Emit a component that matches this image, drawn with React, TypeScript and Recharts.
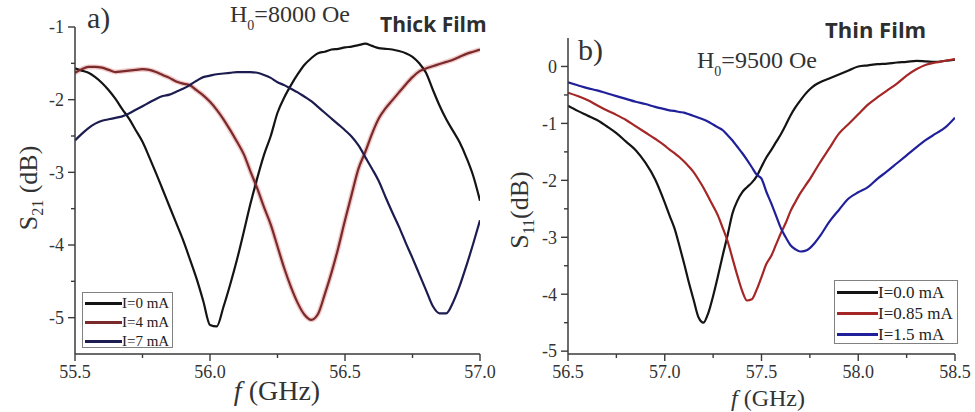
import { LineChart, Line, XAxis, YAxis, Legend } from 'recharts'

// a) thick film, S21 vs f, H0 = 8000 Oe
const thickFreq = [
  55.5, 55.525, 55.55, 55.575, 55.6, 55.625, 55.65, 55.675, 55.7, 55.725,
  55.75, 55.775, 55.8, 55.825, 55.85, 55.875, 55.9, 55.925, 55.95, 55.975,
  56.0, 56.025, 56.05, 56.075, 56.1, 56.125, 56.15, 56.175, 56.2, 56.225,
  56.25, 56.275, 56.3, 56.325, 56.35, 56.375, 56.4, 56.425, 56.45, 56.475,
  56.5, 56.525, 56.55, 56.575, 56.6, 56.625, 56.65, 56.675, 56.7, 56.725,
  56.75, 56.775, 56.8, 56.825, 56.85, 56.875, 56.9, 56.925, 56.95, 56.975, 57.0,
]
const thick0mA = [
  -1.57, -1.6, -1.63, -1.69, -1.77, -1.87, -1.99, -2.13, -2.26, -2.42,
  -2.58, -2.79, -3.01, -3.24, -3.47, -3.7, -3.93, -4.19, -4.46, -4.77,
  -5.1, -5.12, -4.85, -4.54, -4.2, -3.82, -3.43, -3.08, -2.76, -2.5,
  -2.18, -1.97, -1.8, -1.65, -1.52, -1.43, -1.36, -1.34, -1.31, -1.3,
  -1.28, -1.27, -1.25, -1.23, -1.26, -1.29, -1.3, -1.31, -1.33, -1.36,
  -1.41, -1.5, -1.63, -1.86, -2.08, -2.27, -2.43, -2.59, -2.8, -3.05, -3.39,
]
const thick4mA = [
  -1.63, -1.58, -1.55, -1.55, -1.56, -1.59, -1.62, -1.61, -1.6, -1.59,
  -1.58, -1.59, -1.62, -1.66, -1.7, -1.75, -1.78, -1.8, -1.87, -1.94,
  -2.03, -2.14, -2.27, -2.42, -2.58, -2.75, -2.99, -3.22, -3.48, -3.72,
  -4.02, -4.32, -4.58, -4.8, -4.96, -5.03, -4.95, -4.68, -4.38, -4.04,
  -3.66, -3.3, -2.95, -2.72, -2.47, -2.26, -2.12, -2.01, -1.9, -1.79,
  -1.69, -1.61, -1.57, -1.54, -1.51, -1.48, -1.45, -1.41, -1.37, -1.34, -1.31,
]
const thick7mA = [
  -2.56, -2.47, -2.39, -2.33, -2.29, -2.27, -2.25, -2.23, -2.19, -2.14,
  -2.09, -2.04, -1.99, -1.95, -1.93, -1.89, -1.85, -1.8, -1.74, -1.69,
  -1.67, -1.65, -1.64, -1.63, -1.62, -1.62, -1.62, -1.63, -1.66, -1.7,
  -1.76, -1.8, -1.85, -1.9, -1.96, -2.02, -2.1, -2.18, -2.26, -2.34,
  -2.42, -2.51, -2.63, -2.79, -2.95, -3.12, -3.34, -3.55, -3.75, -3.97,
  -4.18, -4.4, -4.62, -4.84, -4.94, -4.94, -4.79, -4.56, -4.28, -3.98, -3.66,
]
const thickXTicks = [55.5, 55.75, 56.0, 56.25, 56.5, 56.75, 57.0]
const thickYTicks = [-5, -4.5, -4, -3.5, -3, -2.5, -2, -1.5, -1]

// b) thin film, S11 vs f, H0 = 9500 Oe
const thinFreq = [
  56.5, 56.55, 56.6, 56.65, 56.7, 56.75, 56.8, 56.85, 56.9, 56.95,
  57.0, 57.025, 57.05, 57.075, 57.1, 57.125, 57.15, 57.175, 57.2, 57.225,
  57.25, 57.275, 57.3, 57.325, 57.35, 57.375, 57.4, 57.425, 57.45, 57.475,
  57.5, 57.525, 57.55, 57.575, 57.6, 57.625, 57.65, 57.675, 57.7, 57.725,
  57.75, 57.775, 57.8, 57.85, 57.9, 57.95, 58.0, 58.05, 58.1, 58.15,
  58.2, 58.25, 58.3, 58.35, 58.4, 58.45, 58.5,
]
const thin00mA = [
  -0.69, -0.78, -0.86, -0.94, -1.05, -1.17, -1.32, -1.47, -1.69, -1.98,
  -2.39, -2.62, -2.84, -3.14, -3.46, -3.8, -4.11, -4.41, -4.5, -4.33,
  -4.03, -3.68, -3.31, -2.96, -2.58, -2.36, -2.21, -2.12, -2.04, -1.93,
  -1.76, -1.6, -1.47, -1.33, -1.19, -1.03, -0.86, -0.72, -0.6, -0.49,
  -0.4, -0.33, -0.28, -0.21, -0.14, -0.07, 0.0, 0.02, 0.04, 0.05,
  0.07, 0.08, 0.1, 0.09, 0.08, 0.1, 0.12,
]
const thin085mA = [
  -0.46, -0.52, -0.59, -0.68, -0.77, -0.85, -0.94, -1.05, -1.16, -1.27,
  -1.39, -1.46, -1.52, -1.59, -1.67, -1.76, -1.86, -1.99, -2.13, -2.29,
  -2.45, -2.62, -2.84, -3.07, -3.37, -3.67, -3.94, -4.11, -4.09, -3.92,
  -3.7, -3.47, -3.33, -3.13, -2.93, -2.75, -2.54, -2.38, -2.23, -2.1,
  -1.98, -1.84, -1.7, -1.44, -1.18, -1.01, -0.84, -0.67, -0.54, -0.42,
  -0.3, -0.16, -0.05, 0.03, 0.07, 0.1, 0.13,
]
const thin15mA = [
  -0.28, -0.33, -0.38, -0.42, -0.47, -0.52, -0.57, -0.62, -0.66, -0.71,
  -0.75, -0.77, -0.78, -0.8, -0.81, -0.84, -0.87, -0.9, -0.93, -0.97,
  -1.02, -1.07, -1.12, -1.21, -1.3, -1.41, -1.52, -1.64, -1.77, -1.9,
  -1.97, -2.2, -2.4, -2.62, -2.84, -3.0, -3.14, -3.21, -3.25, -3.24,
  -3.19, -3.1, -2.99, -2.73, -2.52, -2.32, -2.21, -2.12, -1.97, -1.84,
  -1.7, -1.56, -1.42, -1.29, -1.18, -1.07, -0.9,
]
const thinXTicks = [56.5, 56.75, 57.0, 57.25, 57.5, 57.75, 58.0, 58.25, 58.5]
const thinYTicks = [-5, -4.5, -4, -3.5, -3, -2.5, -2, -1.5, -1, -0.5, 0]

const thickData = thickFreq.map((f, i) => ({ f, a: thick0mA[i], b: thick4mA[i], c: thick7mA[i] }))
const thinData = thinFreq.map((f, i) => ({ f, a: thin00mA[i], b: thin085mA[i], c: thin15mA[i] }))

const SERIF = '"Liberation Serif", serif'
const SANS = '"Open Sans", sans-serif'
const AXIS = '#3a3a3a'
const TICK_SIZE = 7
const TICK_MARGIN = 3

const isMajorX = (v: number) => Math.abs(v * 2 - Math.round(v * 2)) < 1e-6
const isMajorY = (v: number) => Math.abs(v - Math.round(v)) < 1e-6

function XTick(props: any) {
  const { x, y, payload } = props
  const v = payload.value as number
  const axisY = y - TICK_SIZE - TICK_MARGIN
  const major = isMajorX(v)
  return (
    <g>
      <line x1={x} x2={x} y1={axisY} y2={axisY + (major ? 7 : 4)} stroke={AXIS} strokeWidth={1.4} />
      {major && (
        <text x={x} y={axisY + 24} textAnchor="middle" fontSize={18} fill="#333" style={{ fontFamily: SERIF }}>
          {v.toFixed(1)}
        </text>
      )}
    </g>
  )
}

function YTick(props: any) {
  const { x, y, payload } = props
  const v = payload.value as number
  const axisX = x + TICK_SIZE + TICK_MARGIN
  const major = isMajorY(v)
  return (
    <g>
      <line x1={axisX - (major ? 7 : 4)} x2={axisX} y1={y} y2={y} stroke={AXIS} strokeWidth={1.4} />
      {major && (
        <text x={axisX - 11} y={y} dy="0.35em" textAnchor="end" fontSize={18} fill="#333" style={{ fontFamily: SERIF }}>
          {String(Math.round(v))}
        </text>
      )}
    </g>
  )
}

function LegendBox({ payload, rowH, lineW, fontSize }: { payload?: any[]; rowH: number; lineW: number; fontSize: number }) {
  const items = (payload || []).filter((p) => p.type !== 'none')
  return (
    <div
      style={{
        width: '100%',
        height: '100%',
        boxSizing: 'border-box',
        border: '1px solid #808080',
        background: '#fff',
        padding: '1px 0 0 2px',
      }}
    >
      {items.map((p) => (
        <div key={p.value} style={{ display: 'flex', alignItems: 'center', height: rowH }}>
          <div style={{ width: lineW, height: 2.5, background: p.color }} />
          <span style={{ fontFamily: SERIF, fontSize, color: '#222', lineHeight: 1, whiteSpace: 'nowrap' }}>{p.value}</span>
        </div>
      ))}
    </div>
  )
}

function ThickChart() {
  return (
    <LineChart width={510} height={412} data={thickData} margin={{ top: 27, right: 30, bottom: 28, left: 15 }}>
      <XAxis
        dataKey="f"
        type="number"
        domain={[55.5, 57]}
        ticks={thickXTicks}
        interval={0}
        allowDataOverflow
        height={30}
        tickSize={TICK_SIZE}
        tickMargin={TICK_MARGIN}
        tickLine={{ stroke: 'none' }}
        axisLine={{ stroke: AXIS, strokeWidth: 1.5 }}
        tick={(p: any) => <XTick {...p} />}
      />
      <YAxis
        type="number"
        domain={[-5.5, -1]}
        ticks={thickYTicks}
        interval={0}
        allowDataOverflow
        width={60}
        tickSize={TICK_SIZE}
        tickMargin={TICK_MARGIN}
        tickLine={{ stroke: 'none' }}
        axisLine={{ stroke: AXIS, strokeWidth: 1.5 }}
        tick={(p: any) => <YTick {...p} />}
      />
      <Line type="monotone" dataKey="b" name="glow" stroke="#e08a8a" strokeOpacity={0.45} strokeWidth={5} dot={false} legendType="none" isAnimationActive={false} />
      <Line type="monotone" dataKey="a" name="I=0 mA" stroke="#141414" strokeWidth={2.2} dot={false} isAnimationActive={false} />
      <Line type="monotone" dataKey="b" name="I=4 mA" stroke="#7a2a2a" strokeWidth={2.2} dot={false} isAnimationActive={false} />
      <Line type="monotone" dataKey="c" name="I=7 mA" stroke="#1c1c50" strokeWidth={2.2} dot={false} isAnimationActive={false} />
      <Legend
        layout="vertical"
        align="center"
        verticalAlign="middle"
        wrapperStyle={{ left: 82, top: 292, width: 91, height: 56 }}
        content={(p: any) => <LegendBox payload={p.payload} rowH={19} lineW={37} fontSize={15} />}
      />
    </LineChart>
  )
}

function ThinChart() {
  return (
    <LineChart width={490} height={412} data={thinData} margin={{ top: 38, right: 20, bottom: 28, left: 23 }}>
      <XAxis
        dataKey="f"
        type="number"
        domain={[56.5, 58.5]}
        ticks={thinXTicks}
        interval={0}
        allowDataOverflow
        height={30}
        tickSize={TICK_SIZE}
        tickMargin={TICK_MARGIN}
        tickLine={{ stroke: 'none' }}
        axisLine={{ stroke: AXIS, strokeWidth: 1.5 }}
        tick={(p: any) => <XTick {...p} />}
      />
      <YAxis
        type="number"
        domain={[-5.05, 0.5]}
        ticks={thinYTicks}
        interval={0}
        allowDataOverflow
        width={60}
        tickSize={TICK_SIZE}
        tickMargin={TICK_MARGIN}
        tickLine={{ stroke: 'none' }}
        axisLine={{ stroke: AXIS, strokeWidth: 1.5 }}
        tick={(p: any) => <YTick {...p} />}
      />
      <Line type="monotone" dataKey="a" name="I=0.0 mA" stroke="#141414" strokeWidth={2.2} dot={false} isAnimationActive={false} />
      <Line type="monotone" dataKey="b" name="I=0.85 mA" stroke="#a52626" strokeWidth={2.2} dot={false} isAnimationActive={false} />
      <Line type="monotone" dataKey="c" name="I=1.5 mA" stroke="#20209a" strokeWidth={2.2} dot={false} isAnimationActive={false} />
      <Legend
        layout="vertical"
        align="center"
        verticalAlign="middle"
        wrapperStyle={{ left: 349, top: 280, width: 124, height: 64 }}
        content={(p: any) => <LegendBox payload={p.payload} rowH={21} lineW={41} fontSize={17} />}
      />
    </LineChart>
  )
}

export default function App() {
  return (
    <div style={{ position: 'absolute', left: 0, top: 0, width: 975, height: 412, overflow: 'hidden', background: '#fff' }}>
      <div style={{ position: 'absolute', left: 0, top: 0 }}>
        <ThickChart />
      </div>
      <div style={{ position: 'absolute', left: 485, top: 0 }}>
        <ThinChart />
      </div>
      <svg width={975} height={412} style={{ position: 'absolute', left: 0, top: 0, pointerEvents: 'none' }}>
        <g fill="#333" style={{ fontFamily: SERIF }}>
          <text x={87} y={28} fontSize={30}>a)</text>
          <text x={230} y={22} fontSize={24}>
            H<tspan fontSize={14} dy={8}>0</tspan>
            <tspan dy={-8}>=8000 Oe</tspan>
          </text>
          <text x={578} y={60} fontSize={30}>b)</text>
          <text x={697} y={68} fontSize={24}>
            H<tspan fontSize={14} dy={8}>0</tspan>
            <tspan dy={-8}>=9500 Oe</tspan>
          </text>
          <text x={277} y={400} fontSize={28} textAnchor="middle">
            <tspan fontStyle="italic">f</tspan> (GHz)
          </text>
          <text x={768} y={406} fontSize={24} textAnchor="middle">
            <tspan fontStyle="italic">f</tspan> (GHz)
          </text>
          <text transform="translate(37,188) rotate(-90)" fontSize={26} textAnchor="middle">
            S<tspan fontSize={16} dy={6}>21</tspan>
            <tspan dy={-6}> (dB)</tspan>
          </text>
          <text transform="translate(528,210) rotate(-90)" fontSize={26} textAnchor="middle">
            S<tspan fontSize={16} dy={6}>11</tspan>
            <tspan dy={-6}>(dB)</tspan>
          </text>
        </g>
        <g fontWeight={700} fill="#2e2e2e" style={{ fontFamily: SANS }}>
          <text x={380} y={32} fontSize={21}>Thick Film</text>
          <text x={825} y={38} fontSize={22}>Thin Film</text>
        </g>
      </svg>
    </div>
  )
}
